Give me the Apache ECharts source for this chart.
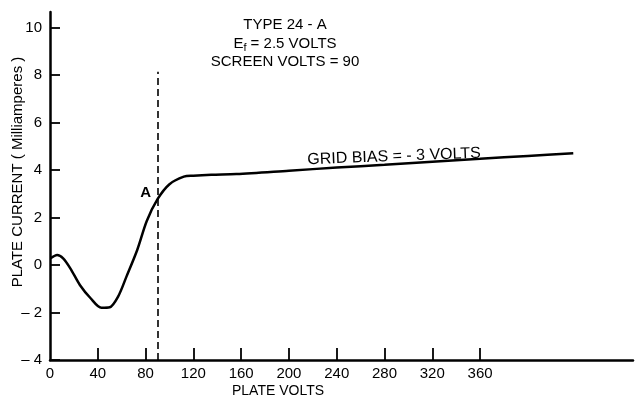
<!DOCTYPE html>
<html>
<head>
<meta charset="utf-8">
<script src="https://cdn.jsdelivr.net/npm/echarts@6/dist/echarts.min.js"></script>
<style>
html,body{margin:0;padding:0;background:#fff;}
#chart{width:635px;height:401px;}
</style>
</head>
<body>
<div id="chart"></div>
<script>
// Data
const plateVolts   = [0.5, 6, 11, 17, 25, 34, 43, 50, 57, 64, 73, 81, 90, 100, 112, 120, 135, 156, 200, 240, 280, 320, 360, 400, 438];
const plateCurrent = [0.28, 0.42, 0.28, -0.14, -0.84, -1.40, -1.80, -1.78, -1.33, -0.49, 0.63, 1.85, 2.77, 3.40, 3.72, 3.76, 3.80, 3.83, 3.97, 4.10, 4.22, 4.35, 4.47, 4.59, 4.70];
const xTickLabels = [0, 40, 80, 120, 160, 200, 240, 280, 320, 360];
const xTicks      = [40, 80, 120, 160, 200, 240, 280, 320, 360];
const yTickLabels = [-4, -2, 0, 2, 4, 6, 8, 10];
const screenVolts = 90;        // dashed vertical line
const screenLineTop = 8.13;    // mA, top of dashed line
const pointA = [80, 3.03];     // label "A"

const chart = echarts.init(document.getElementById('chart'));
const FONT = 'Liberation Sans, Arial, sans-serif';
const data = plateVolts.map((v, i) => [v, plateCurrent[i]]);

chart.setOption({
  animation: false,
  backgroundColor: '#fff',
  grid: {left: 50, right: 2, top: 12, bottom: 41, containLabel: false},
  xAxis: {
    type: 'value', min: 0, max: 488,
    axisLine: {show: true, onZero: false, lineStyle: {color: '#000', width: 2.5}},
    axisTick: {show: true, inside: true, length: 12, customValues: xTicks, lineStyle: {color: '#000', width: 1.8}},
    axisLabel: {show: true, customValues: xTickLabels, color: '#000', fontSize: 15, fontFamily: FONT, margin: 6},
    splitLine: {show: false}
  },
  yAxis: {
    type: 'value', min: -4, max: 10.65,
    axisLine: {show: true, onZero: false, lineStyle: {color: '#000', width: 2.5}},
    axisTick: {show: true, inside: true, length: 10, customValues: yTickLabels, lineStyle: {color: '#000', width: 1.8}},
    axisLabel: {show: true, customValues: yTickLabels, color: '#000', fontSize: 15, fontFamily: FONT, margin: 8,
      formatter: v => v < 0 ? '\u2013 ' + Math.abs(v) : String(v)},
    splitLine: {show: false}
  },
  series: [
    {
      type: 'line', data: data, smooth: 0.3, symbol: 'none',
      lineStyle: {color: '#000', width: 2.5},
      markLine: {
        silent: true, symbol: ['none', 'none'],
        lineStyle: {color: '#000', width: 1.6, type: [7, 4]},
        label: {show: false},
        data: [[{coord: [screenVolts, -4]}, {coord: [screenVolts, screenLineTop]}]]
      }
    }
  ]
});

const aPos = chart.convertToPixel({gridIndex: 0}, pointA);
chart.setOption({
  graphic: [
    {
      type: 'text', x: aPos[0], y: aPos[1],
      style: {text: 'A', fill: '#000', font: 'bold 15px ' + FONT, textAlign: 'center', textVerticalAlign: 'middle'}
    },
    {
      type: 'text', x: 285, y: 16,
      style: {
        text: 'TYPE 24 - A\nE{sub|f} = 2.5 VOLTS\nSCREEN VOLTS = 90',
        fill: '#000', font: '15px ' + FONT, textAlign: 'center', textVerticalAlign: 'top', lineHeight: 18.5,
        rich: {sub: {fontSize: 11, verticalAlign: 'bottom', padding: [6, 0, 0, 0], fill: '#000'}}
      }
    },
    {
      type: 'text', x: 394, y: 156.5, rotation: 0.038,
      style: {text: 'GRID BIAS = - 3 VOLTS', fill: '#000', font: '16px ' + FONT, textAlign: 'center', textVerticalAlign: 'middle'}
    },
    {
      type: 'text', x: 18, y: 172, rotation: Math.PI / 2,
      style: {text: 'PLATE CURRENT ( Milliamperes )', fill: '#000', font: '15px ' + FONT, textAlign: 'center', textVerticalAlign: 'middle'}
    },
    {
      type: 'text', x: 278, y: 391,
      style: {text: 'PLATE VOLTS', fill: '#000', font: '14px ' + FONT, textAlign: 'center', textVerticalAlign: 'middle'}
    }
  ]
});
</script>
</body>
</html>
